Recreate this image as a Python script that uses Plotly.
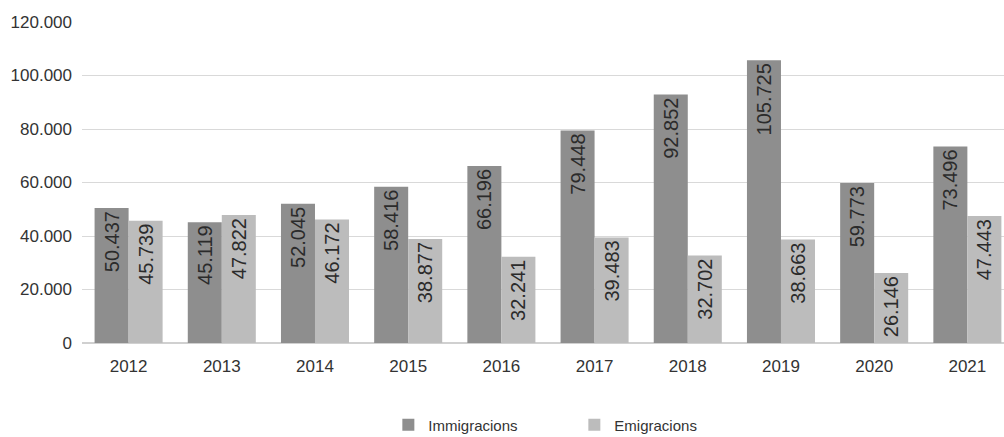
import plotly.graph_objects as go

years = ["2012", "2013", "2014", "2015", "2016", "2017", "2018", "2019", "2020", "2021"]
immigracions = [50437, 45119, 52045, 58416, 66196, 79448, 92852, 105725, 59773, 73496]
emigracions = [45739, 47822, 46172, 38877, 32241, 39483, 32702, 38663, 26146, 47443]
y_ticks = [0, 20000, 40000, 60000, 80000, 100000, 120000]

font_family = "Liberation Sans, Arial, sans-serif"

fig = go.Figure()
for name, vals, color in [("Immigracions", immigracions, "#8e8e8e"),
                          ("Emigracions", emigracions, "#bcbcbc")]:
    fig.add_trace(go.Bar(
        name=name, x=years, y=vals,
        marker=dict(color=color, line=dict(width=0)),
        texttemplate="%{y:,.0f}", textposition="inside", insidetextanchor="end",
        textangle=-90, textfont=dict(size=20, color="#2b2b2b", family=font_family),
        constraintext="none",
    ))

fig.update_layout(
    width=1004, height=437,
    margin=dict(l=82, r=0, t=22, b=94, autoexpand=False),
    paper_bgcolor="white", plot_bgcolor="white",
    separators=",.",
    barmode="group", bargap=0.27, bargroupgap=0,
    font=dict(family=font_family, size=17, color="#333333"),
    showlegend=True,
    legend=dict(orientation="h", x=0.534, xanchor="center",
                yref="container", y=12 / 437, yanchor="middle",
                font=dict(size=15, color="#333333"), itemwidth=30,
                entrywidth=141, entrywidthmode="pixels"),
    xaxis=dict(type="category", range=[-0.5, 9.393], showgrid=False, showline=False,
               automargin=False,
               ticks="", ticklabelstandoff=11, tickfont=dict(size=17, color="#333333")),
    yaxis=dict(range=[0, 120000], tickvals=y_ticks, tickformat=",.0f",
               automargin=False,
               showgrid=True, gridcolor="#d9d9d9", gridwidth=1,
               zeroline=True, zerolinecolor="#d0d0d0", zerolinewidth=2,
               showline=False, ticks="", ticklabelstandoff=9,
               tickfont=dict(size=17, color="#333333")),
)

fig.write_html("out.html", config={"displayModeBar": False},
               post_script="document.body.style.margin='0';")
